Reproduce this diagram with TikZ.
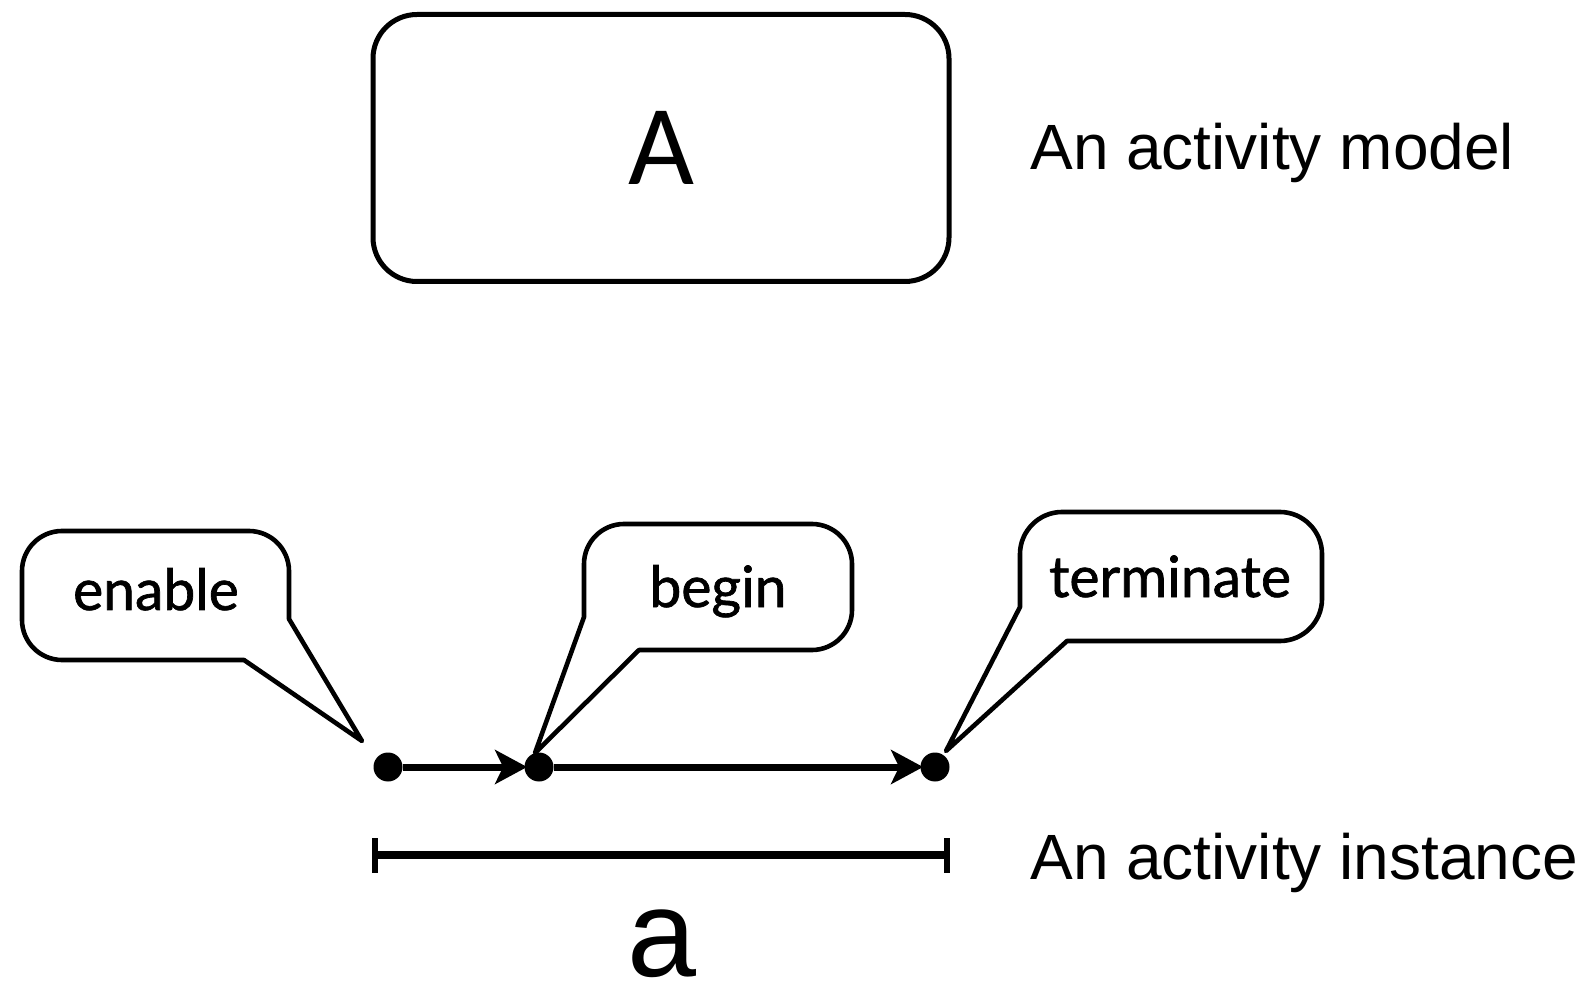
\documentclass[tikz,border=0pt]{standalone}
\usepackage{fontspec}
\setmainfont{Liberation Sans}
\newfontfamily\boxfont{Carlito}
\newfontfamily\calloutfont{Lato}[FakeBold=1.2]
\usetikzlibrary{arrows.meta}
\begin{document}
\begin{tikzpicture}[x=0.5pt,y=-0.5pt,
  modelbox/.style={draw,line width=2.5pt,rounded corners=22pt,minimum width=288pt,minimum height=133.5pt,inner sep=0pt,font=\boxfont\fontsize{57}{60}\selectfont},
  callout/.style={draw,line width=2.3pt,line join=round,fill=white},
  ctext/.style={inner sep=0pt,anchor=base,font=\calloutfont\fontsize{28.5}{32}\selectfont},
  lbl/.style={inner sep=0pt,anchor=base west,font=\fontsize{32}{38}\selectfont},
  dot/.style={circle,fill=black,inner sep=0pt,minimum size=14.5pt},
  flow/.style={line width=3.5pt,shorten >=-1.5pt,-{Stealth[length=16pt,width=17pt,inset=4pt]}},
  spanline/.style={line width=3.8pt},
  tickline/.style={line width=3.2pt}]
\useasboundingbox (0,0) rectangle (1591,1005);
% activity model
\node[modelbox] (A) at (661,148) {A};
\node[lbl] (tm) at (1030,170) {An activity model};
% callouts
\draw[callout] (244,660) -- (62,660) .. controls (40,660) and (22,642) .. (22,620) -- (22,571) .. controls (22,549) and (40,531) .. (62,531) -- (249,531) .. controls (271,531) and (289,549) .. (289,571) -- (289,619) -- (362,741) -- cycle;
\node[ctext] (en) at (156,610) {enable};
\draw[callout] (639,650) -- (812,650) .. controls (834,650) and (852,632) .. (852,610) -- (852,564) .. controls (852,542) and (834,524) .. (812,524) -- (624,524) .. controls (602,524) and (584,542) .. (584,564) -- (584,617) -- (535,753) -- cycle;
\node[ctext] (bg) at (718,607) {begin};
\draw[callout] (1067,641) -- (1280,641) .. controls (1303,641) and (1322,622) .. (1322,599) -- (1322,554) .. controls (1322,531) and (1303,512) .. (1280,512) -- (1062,512) .. controls (1039,512) and (1020,531) .. (1020,554) -- (1020,607) -- (946,751) -- cycle;
\node[ctext] (tt) at (1170,597) {terminate};
% events
\node[dot] (e) at (388,767) {};
\node[dot] (b) at (539,767) {};
\node[dot] (t) at (935,767) {};
\draw[flow] (e) -- (b);
\draw[flow] (b) -- (t);
% activity instance
\coordinate (iL) at (375,855);
\coordinate (iR) at (947,855);
\coordinate (iLt) at (375,838);
\coordinate (iLb) at (375,873);
\coordinate (iRt) at (947,838);
\coordinate (iRb) at (947,873);
\draw[spanline] (iL) -- (iR);
\draw[tickline] (iLt) -- (iLb);
\draw[tickline] (iRt) -- (iRb);
\node[lbl] (ti) at (1030,879) {An activity instance};
\node[inner sep=0pt,anchor=base,font=\fontsize{62}{70}\selectfont] (a) at (662,976) {a};
\end{tikzpicture}
\end{document}
